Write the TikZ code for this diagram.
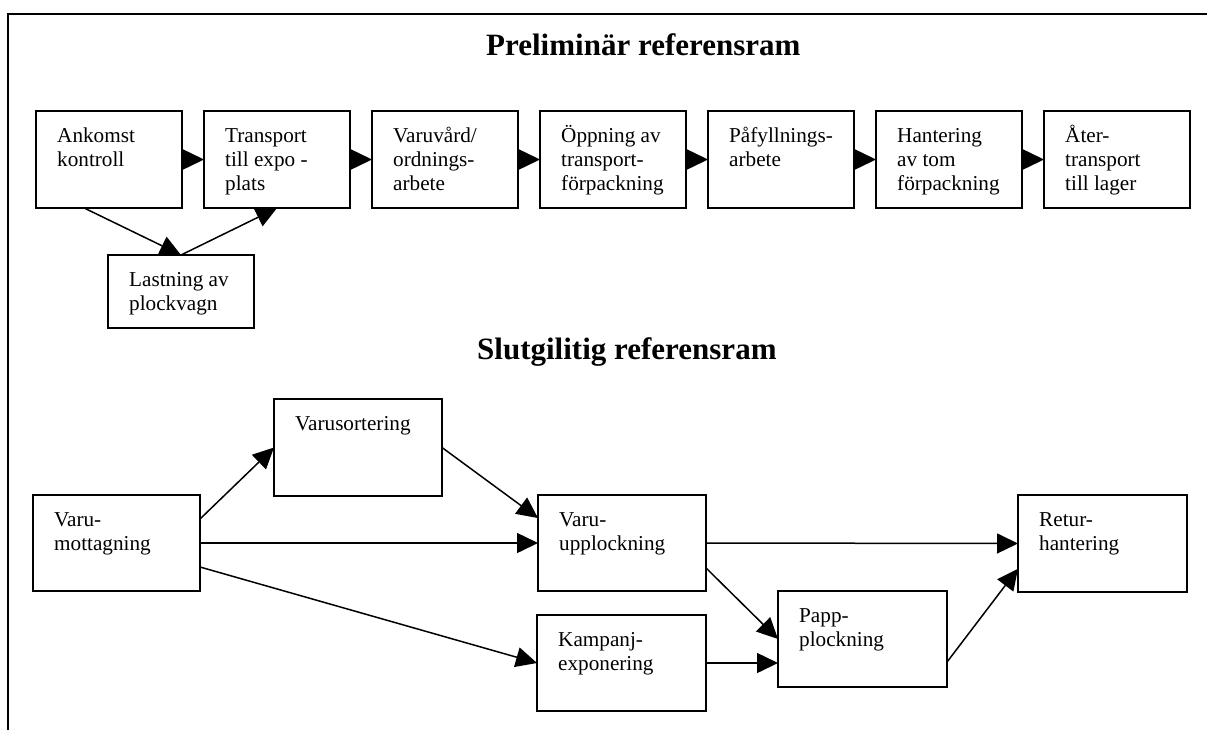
\documentclass[tikz,border=0pt]{standalone}
\usepackage{fontspec}
\setmainfont{Liberation Serif}
\usetikzlibrary{arrows.meta,calc}

\tikzset{
  frameline/.style={line width=2pt, line cap=rect},
  procbox/.style={draw, line width=1.8pt, rectangle, inner sep=0pt, outer sep=0pt, anchor=north west},
  boxtext/.style={anchor=north west, inner sep=0pt, align=left,
    font=\fontsize{21.2}{24}\selectfont},
  heading/.style={anchor=base west, inner sep=0pt,
    font=\fontsize{31}{36}\selectfont\bfseries},
  flow/.style={line width=1.5pt, -{Triangle[length=21pt,width=20pt]}},
}

% #1 name, #2 x, #3 y, #4 width, #5 height, #6 text
\newcommand\flowbox[6]{%
  \node[procbox, minimum width=#4pt, minimum height=#5pt] (#1) at (#2,#3) {};
  \node[boxtext] (#1-t) at ([xshift=21pt,yshift=-14.2pt]#1.north west) {\strut #6};
}

\begin{document}
\begin{tikzpicture}[x=1pt,y=-1pt]
  \useasboundingbox (0,0) rectangle (1207,729);

  % outer frame (left and top edges)
  \draw[frameline] (8,729) -- (8,14) -- (1207,14);

  % headings
  \node[heading] (h1) at (486,55) {Preliminär referensram};
  \node[heading] (h2) at (477,359) {Slutgilitig referensram};

  % preliminary chain
  \flowbox{p1}{36}{111}{146}{97}{Ankomst\\kontroll}
  \flowbox{p2}{204}{111}{146}{97}{Transport\\till expo -\\plats}
  \flowbox{p3}{372}{111}{146}{97}{Varuvård/\\ordnings-\\arbete}
  \flowbox{p4}{540}{111}{146}{97}{Öppning av\\transport-\\förpackning}
  \flowbox{p5}{708}{111}{146}{97}{Påfyllnings-\\arbete}
  \flowbox{p6}{876}{111}{146}{97}{Hantering\\av tom\\förpackning}
  \flowbox{p7}{1044}{111}{146}{97}{Åter-\\transport\\till lager}
  \flowbox{pl}{108}{255}{146}{73}{Lastning av\\plockvagn}

  \foreach \a/\b in {p1/p2,p2/p3,p3/p4,p4/p5,p5/p6,p6/p7}
    \draw[flow] (\a.east) -- (\b.west);
  \draw[flow] ($(p1.south west)!0.33!(p1.south east)$) -- (pl.north);
  \draw[flow] (pl.north) -- (p2.south);

  % final chain
  \flowbox{vm}{33}{495}{167}{96}{Varu-\\mottagning}
  \flowbox{vs}{274}{399}{168}{97}{Varusortering}
  \flowbox{vu}{538}{495}{168}{96}{Varu-\\upplockning}
  \flowbox{kp}{537}{615}{169}{96}{Kampanj-\\exponering}
  \flowbox{pp}{778}{591}{169}{96}{Papp-\\plockning}
  \flowbox{rt}{1018}{495}{169}{97}{Retur-\\hantering}

  \draw[flow] ($(vm.north east)!0.25!(vm.south east)$) -- (vs.west);
  \draw[flow] (vm.east) -- (vu.west);
  \draw[flow] ($(vm.north east)!0.75!(vm.south east)$) -- (kp.west);
  \draw[flow] (vs.east) -- ($(vu.north west)!0.24!(vu.south west)$);
  \draw[flow] (vu.east) -- (rt.west);
  \draw[flow] ($(vu.north east)!0.76!(vu.south east)$) -- (pp.west);
  \draw[flow] (kp.east) -- ($(pp.north west)!0.75!(pp.south west)$);
  \draw[flow] ($(pp.north east)!0.74!(pp.south east)$) -- ($(rt.north west)!0.76!(rt.south west)$);
\end{tikzpicture}
\end{document}
